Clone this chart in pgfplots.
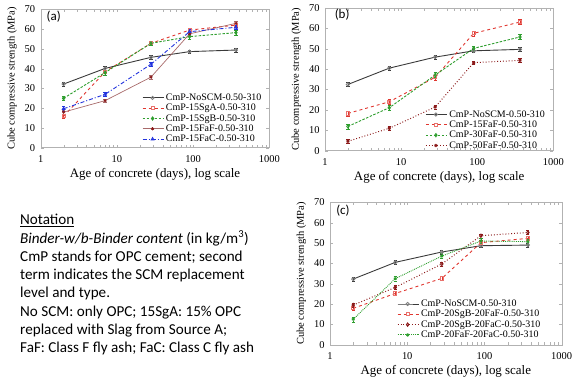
\documentclass[border=0pt]{standalone}
\usepackage{fontspec}
\setmainfont{Liberation Serif}
\newfontfamily\calfont{Carlito}
\usepackage{pgfplots}
\pgfplotsset{compat=1.18}
\definecolor{cblack}{HTML}{3A3A3A}
\definecolor{cred}{HTML}{E0362F}
\definecolor{cgreen}{HTML}{2E9E2E}
\definecolor{cbrown}{HTML}{A86A6A}
\definecolor{cmaroon}{HTML}{8B1A1A}
\definecolor{cblue}{HTML}{2233DD}
\newcommand{\tickfont}{\fontsize{10.5}{12}\selectfont}
\newcommand{\xlabfont}{\fontsize{13}{15}\selectfont}
\newcommand{\ylabfont}{\fontsize{10.5}{12}\selectfont}
\newcommand{\legfont}{\fontsize{10}{11}\selectfont}
\pgfplotsset{
 every tick label/.append style={font=\tickfont},
 every x tick label/.append style={yshift=-4pt},
 every y tick label/.append style={xshift=-2pt},
 every axis x label/.append style={font=\xlabfont, yshift=1pt},
 every axis y label/.append style={font=\ylabfont, yshift=1pt},
 every axis/.append style={
  scale only axis, xmode=log, xmin=1, xmax=1000, ymin=0, ymax=70,
  ytick={0,10,...,70}, xtick={1,10,100,1000}, xticklabels={1,10,100,1000},
  minor xtick={}, tick align=inside, axis line style={gray!60},
  tick style={gray!60}, major tick length=3pt,
  /pgf/number format/assume math mode=true,
  xlabel={Age of concrete (days), log scale},
  ylabel={Cube compressive strength (MPa)},
  legend cell align=left,
  legend style={draw=none, fill=none, anchor=north west, inner sep=0pt,
    font=\legfont, row sep=-1.8pt},
  legend image code/.code={\draw[mark repeat=2,mark phase=2,#1] plot coordinates {(0pt,0pt) (10pt,0pt) (21pt,0pt)};},
 },
 every axis plot/.append style={line width=0.9pt, mark size=1.6pt},
}
\tikzset{
 sNo/.style={cblack, solid, mark=o, mark options={solid, draw=gray}},
 sSgA/.style={cred, dashed, mark=square, mark options={solid, draw=cred!70}},
 sSgB/.style={cgreen, dash pattern=on 2.5pt off 1.5pt, mark=diamond, mark options={solid}},
 sFaF/.style={cbrown, solid, line width=0.7pt, mark=asterisk, mark options={solid, draw=cmaroon}},
 sFaC/.style={cblue, dash pattern=on 4pt off 2pt on 1pt off 2pt, mark=triangle, mark options={solid}},
 sFaF50/.style={cmaroon, dotted, line width=1pt, mark=asterisk, mark options={solid}},
 sSgBFaC/.style={cmaroon, dotted, line width=1pt, mark=diamond, mark options={solid}},
 sFaFFaC/.style={cgreen, densely dotted, mark=asterisk, mark options={solid}},
 plab/.style={font=\calfont\fontsize{13}{14}\selectfont},
}
\begin{document}
\begin{tikzpicture}
% ---------------- (a)
\begin{axis}[at={(40.7bp,229.3bp)}, anchor=south west, width=228.6bp, height=138.4bp,
  legend style={at={(0.443,0.405)}}]
\addplot+[sNo, error bars/.cd, y dir=both, y fixed=0.9] coordinates {(2,32.2) (7,40.1) (28,45.7) (90,48.6) (365,49.4)};
\addplot+[sSgA, error bars/.cd, y dir=both, y fixed=0.9] coordinates {(2,15.9) (7,38.4) (28,52.8) (90,59.5) (365,62.0)};
\addplot+[sSgB, error bars/.cd, y dir=both, y fixed=1.2] coordinates {(2,25.0) (7,38.0) (28,52.8) (90,56.2) (365,58.2)};
\addplot+[sFaF, error bars/.cd, y dir=both, y fixed=0.9] coordinates {(2,18.0) (7,23.8) (28,35.7) (90,57.6) (365,62.9)};
\addplot+[sFaC, error bars/.cd, y dir=both, y fixed=1.2] coordinates {(2,19.7) (7,27.0) (28,42.2) (90,58.7) (365,60.9)};
\legend{CmP-NoSCM-0.50-310,CmP-15SgA-0.50-310,CmP-15SgB-0.50-310,CmP-15FaF-0.50-310,CmP-15FaC-0.50-310}
\node[plab] at (rel axis cs:0.057,0.95) {(a)};
\end{axis}
% ---------------- (b)
\begin{axis}[at={(325bp,226.3bp)}, anchor=south west, width=228.3bp, height=142.7bp,
  legend style={at={(0.439,0.297)}}]
\addplot+[sNo, error bars/.cd, y dir=both, y fixed=0.9] coordinates {(2,32.5) (7,40.5) (28,45.9) (90,49.0) (365,49.7)};
\addplot+[sSgA, error bars/.cd, y dir=both, y fixed=1.2] coordinates {(2,18.3) (7,24.0) (28,36.0) (90,57.6) (365,63.1)};
\addplot+[sSgB, error bars/.cd, y dir=both, y fixed=1.2] coordinates {(2,11.9) (7,21.1) (28,37.1) (90,50.2) (365,55.8)};
\addplot+[sFaF50, error bars/.cd, y dir=both, y fixed=0.9] coordinates {(2,4.6) (7,11.0) (28,21.4) (90,43.2) (365,44.3)};
\legend{CmP-NoSCM-0.50-310,CmP-15FaF-0.50-310,CmP-30FaF-0.50-310,CmP-50FaF-0.50-310}
\node[plab] at (rel axis cs:0.075,0.95) {(b)};
\end{axis}
% ---------------- (c)
\begin{axis}[at={(330bp,32.3bp)}, anchor=south west, width=231.7bp, height=142.3bp,
  legend style={at={(0.289,0.33)}}]
\addplot+[sNo, error bars/.cd, y dir=both, y fixed=0.9] coordinates {(2,32.3) (7,40.5) (28,45.6) (90,48.7) (365,49.0)};
\addplot+[sSgA, error bars/.cd, y dir=both, y fixed=1.0] coordinates {(2,17.9) (7,25.2) (28,32.6) (90,50.2) (365,52.3)};
\addplot+[sSgBFaC, error bars/.cd, y dir=both, y fixed=1.0] coordinates {(2,19.5) (7,28.2) (28,39.7) (90,53.6) (365,55.2)};
\addplot+[sFaFFaC, error bars/.cd, y dir=both, y fixed=1.2] coordinates {(2,12.5) (7,32.5) (28,43.6) (90,51.0) (365,50.7)};
\legend{CmP-NoSCM-0.50-310,CmP-20SgB-20FaF-0.50-310,CmP-20SgB-20FaC-0.50-310,CmP-20FaF-20FaC-0.50-310}
\node[plab] at (rel axis cs:0.056,0.944) {(c)};
\end{axis}
% ---------------- notation
\node[anchor=north west, align=left, inner sep=0pt, font=\calfont\fontsize{15.2}{18.4}\selectfont] at (20bp,163bp)
{\underline{Notation}\\
\textit{Binder-w/b-Binder content} (in kg/m\textsuperscript{3})\\
CmP stands for OPC cement; second\\
term indicates the SCM replacement\\
level and type.\\
No SCM: only OPC; 15SgA: 15\% OPC\\
replaced with Slag from Source A;\\
FaF: Class F fly ash; FaC: Class C fly ash};
\pgfresetboundingbox
\path[use as bounding box] (0bp,0bp) rectangle (574bp,377bp);
\end{tikzpicture}
\end{document}
